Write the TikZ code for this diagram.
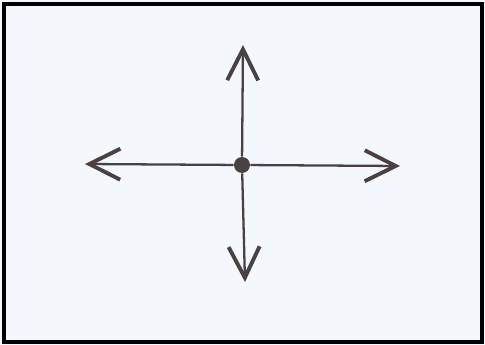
\documentclass[tikz,border=0pt]{standalone}
\usetikzlibrary{arrows.meta}
\definecolor{paper}{HTML}{F4F8FC}
\definecolor{pencil}{HTML}{4A4242}
\tikzset{
  sketcharrow/.style={pencil, line width=1.3pt, -{Straight Barb[length=0.62cm, width=0.62cm, line width=2.2pt]}},
  centredot/.style={circle, fill=pencil, inner sep=0pt, minimum size=0.32cm},
}

\begin{document}
\begin{tikzpicture}[x=0.02cm, y=-0.02cm]
  \useasboundingbox (0,0) rectangle (485,345);
  \fill[paper] (0,0) rectangle (485,345);
  \draw[black, line width=2.4pt] (4,4) rectangle (482,342);

  \node[centredot] (c) at (242,165) {};
  \coordinate (up) at (243,45);
  \coordinate (down) at (245,282);
  \coordinate (left) at (85,164);
  \coordinate (right) at (400,166);

  \foreach \t in {up, down, left, right}
    \draw[sketcharrow] (c) -- (\t);
\end{tikzpicture}
\end{document}
